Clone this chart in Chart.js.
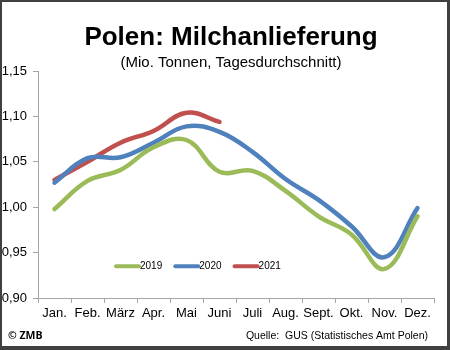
<!DOCTYPE html>
<html>
<head>
<meta charset="utf-8">
<script src="https://cdn.jsdelivr.net/npm/chart.js@4.4.0/dist/chart.umd.min.js"></script>
<style>
  html, body { margin: 0; padding: 0; background: #fff; }
  #wrap { width: 450px; height: 350px; }
</style>
</head>
<body>
<div id="wrap"><canvas id="chart" width="450" height="350"></canvas></div>
<script>
// monthly values, Mio. t per day
const months = ['Jan.', 'Feb.', 'März', 'Apr.', 'Mai', 'Juni', 'Juli', 'Aug.', 'Sept.', 'Okt.', 'Nov.', 'Dez.'];
const milk2019 = [0.998, 1.029, 1.041, 1.066, 1.074, 1.039, 1.040, 1.018, 0.990, 0.970, 0.932, 0.990];
const milk2020 = [1.027, 1.054, 1.055, 1.071, 1.089, 1.083, 1.061, 1.031, 1.008, 0.979, 0.945, 0.999];
const milk2021 = [1.030, 1.050, 1.071, 1.084, 1.104, 1.094];
const yTicks = [0.90, 0.95, 1.00, 1.05, 1.10, 1.15];

const axisGray = '#a6a6a6';
const fontFam = '"Liberation Sans", Arial, sans-serif';

// title block, centred a bit right of the canvas middle like the original
const heading = {
  id: 'heading',
  afterDraw(chart) {
    const ctx = chart.ctx;
    ctx.save();
    ctx.fillStyle = '#000';
    ctx.textAlign = 'center';
    ctx.textBaseline = 'alphabetic';
    ctx.font = 'bold 26px ' + fontFam;
    ctx.fillText('Polen: Milchanlieferung', 231, 45);
    ctx.font = '15px ' + fontFam;
    ctx.fillText('(Mio. Tonnen, Tagesdurchschnitt)', 231, 67);
    ctx.restore();
  }
};

// legend sits inside the plot, near the bottom
const innerLegend = {
  id: 'innerLegend',
  afterDatasetsDraw(chart) {
    const ctx = chart.ctx;
    const area = chart.chartArea;
    const y = chart.scales.y.getPixelForValue(0.935);
    let x = area.left + 78;
    ctx.save();
    ctx.font = '10px ' + fontFam;
    ctx.textBaseline = 'middle';
    chart.data.datasets.forEach((ds) => {
      ctx.strokeStyle = ds.borderColor;
      ctx.lineWidth = 4;
      ctx.lineCap = 'round';
      ctx.beginPath();
      ctx.moveTo(x, y);
      ctx.lineTo(x + 23, y);
      ctx.stroke();
      ctx.fillStyle = '#000';
      ctx.fillText(ds.label, x + 24, y + 0.5);
      x += 59.3;
    });
    ctx.restore();
  }
};

// source line and frame
const footer = {
  id: 'footer',
  afterDraw(chart) {
    const ctx = chart.ctx;
    ctx.save();
    ctx.fillStyle = '#000';
    ctx.textBaseline = 'middle';
    ctx.font = 'bold 10.5px "Open Sans", Arial, sans-serif';
    ctx.textAlign = 'left';
    ctx.fillText('© ZMB', 8, 336);
    ctx.font = '10.5px ' + fontFam;
    ctx.textAlign = 'right';
    ctx.fillText('Quelle:  GUS (Statistisches Amt Polen)', 428, 336);
    ctx.fillStyle = '#404040';
    ctx.fillRect(0, 0, 450, 2);
    ctx.fillRect(0, 0, 2, 350);
    ctx.fillRect(447, 0, 3, 350);
    ctx.fillRect(0, 346, 450, 4);
    ctx.restore();
  }
};

new Chart(document.getElementById('chart'), {
  type: 'line',
  data: {
    labels: months,
    datasets: [
      { label: '2019', data: milk2019, borderColor: '#9bbb59' },
      { label: '2020', data: milk2020, borderColor: '#4f81bd' },
      { label: '2021', data: milk2021, borderColor: '#c0504d' }
    ]
  },
  options: {
    responsive: false,
    animation: false,
    layout: { padding: { left: 2, right: 16, top: 71, bottom: 0 } },
    elements: {
      line: { borderWidth: 4.5, tension: 0.4, fill: false, borderCapStyle: 'round' },
      point: { radius: 0 }
    },
    plugins: {
      legend: { display: false },
      tooltip: { enabled: false }
    },
    scales: {
      x: {
        offset: true,
        grid: { offset: true, drawOnChartArea: false, drawTicks: true, tickLength: 5, color: axisGray },
        border: { color: axisGray },
        ticks: {
          color: '#000', padding: 3, maxRotation: 0, autoSkip: false,
          font: { family: fontFam, size: 13 }
        },
        afterFit(s) { s.height = 52; }
      },
      y: {
        min: yTicks[0],
        max: yTicks[yTicks.length - 1],
        afterBuildTicks(s) { s.ticks = yTicks.map((v) => ({ value: v })); },
        grid: { drawOnChartArea: false, drawTicks: true, tickLength: 5, color: axisGray },
        border: { color: axisGray },
        ticks: {
          color: '#000', padding: 6,
          font: { family: fontFam, size: 13 },
          callback: (v) => Number(v).toFixed(2).replace('.', ',')
        },
        afterFit(s) { s.width = 36; }
      }
    }
  },
  plugins: [heading, innerLegend, footer]
});
</script>
</body>
</html>
